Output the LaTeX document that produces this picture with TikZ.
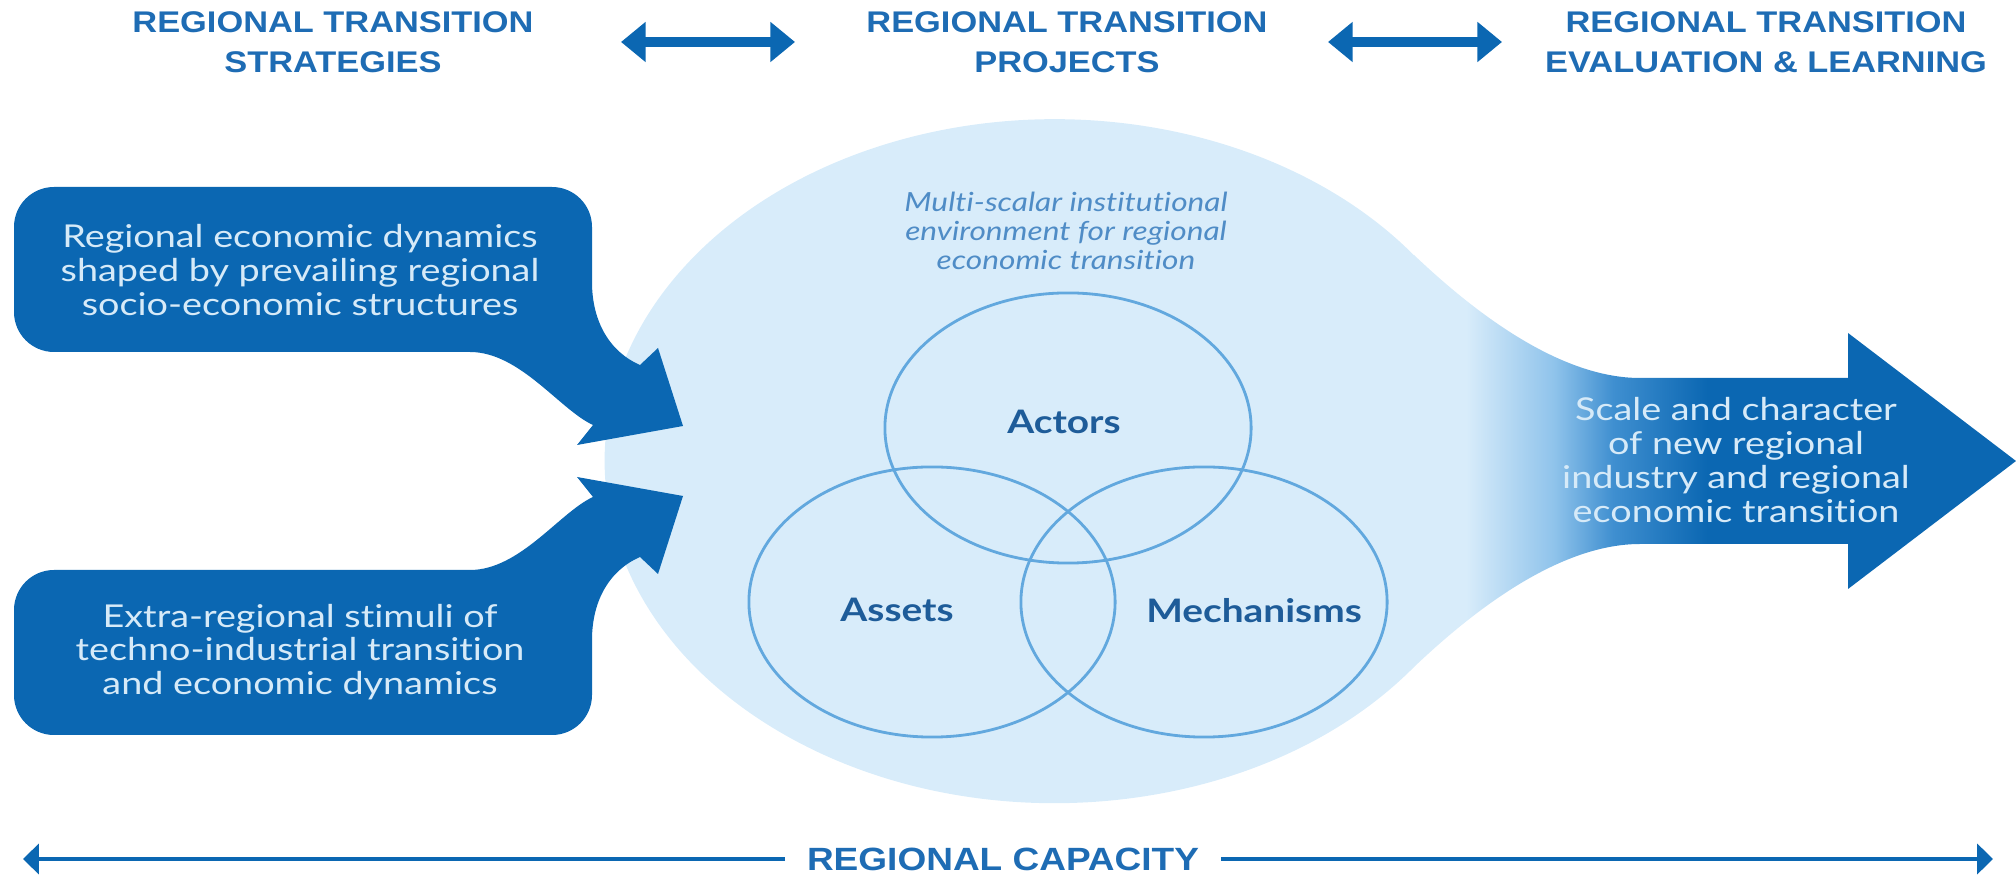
\documentclass[tikz,border=0pt]{standalone}
\usepackage{fontspec}
\setmainfont{Lato}[FakeStretch=1.2, Ligatures=NoCommon]
\newfontfamily\capsfont{Liberation Sans}[FakeStretch=1.15]
\usepackage{tikz}
\usetikzlibrary{arrows.meta}
\usetikzlibrary{shapes.geometric}
\usepackage{xcolor}

\definecolor{darkblue}{RGB}{11,103,178}
\definecolor{lightfill}{RGB}{216,236,250}
\definecolor{paleblue}{RGB}{143,195,235}
\definecolor{deepmid}{RGB}{63,143,208}
\definecolor{paletext}{RGB}{214,234,248}
\definecolor{capblue}{RGB}{30,108,180}
\definecolor{vennline}{RGB}{98,168,222}
\definecolor{vennlabel}{RGB}{30,92,153}
\definecolor{italblue}{RGB}{79,140,198}

\pgfdeclarehorizontalshading{flowshade}{100bp}{color(0bp)=(lightfill); color(56.3bp)=(lightfill); color(59.3bp)=(paleblue); color(61.3bp)=(deepmid); color(64.5bp)=(darkblue); color(100bp)=(darkblue)}

\tikzset{
	toplabel/.style={align=center, text=capblue, font=\capsfont\bfseries\fontsize{8.5}{11.4}\selectfont},
	toparrow/.style={draw=darkblue, line width=3.1pt, {Triangle[width=11pt,length=7pt]}-{Triangle[width=11pt,length=7pt]}},
	caparrow/.style={draw=darkblue, line width=1.2pt, -{Triangle[width=8.5pt,length=4.5pt]}},
	boxtext/.style={align=center, text=paletext, font=\fontsize{8.95}{9.6}\selectfont},
	venn/.style={ellipse, draw=vennline, line width=0.8pt, minimum width=3.66cm, minimum height=2.7cm, inner sep=0pt},
	vennlabel/.style={text=vennlabel, font=\bfseries\fontsize{9.2}{11}\selectfont},
	envtext/.style={align=center, text=italblue, font=\itshape\fontsize{7.5}{8.3}\selectfont}
}

\begin{document}
\begin{tikzpicture}[x=0.01cm,y=0.01cm]
	\useasboundingbox (0,0) rectangle (2016,882);
	
	% top row
	\node[toplabel] (strat) at (333,840) {REGIONAL TRANSITION\\STRATEGIES};
	\node[toplabel] (proj) at (1067,840) {REGIONAL TRANSITION\\PROJECTS};
	\node[toplabel] (evall) at (1766,840) {REGIONAL TRANSITION\\EVALUATION \& LEARNING};
	\coordinate (a1) at (621,840);
	\coordinate (a2) at (795,840);
	\coordinate (a3) at (1328,840);
	\coordinate (a4) at (1502,840);
	\draw[toparrow] (a1) -- (a2);
	\draw[toparrow] (a3) -- (a4);
	
	% environment and outgoing arrow
	\shade[shading=flowshade] (1414,627) .. controls (1475,569) and (1560,504) .. (1640,504)
	-- (1848,504) -- (1848,549) -- (2016,421) -- (1848,293) -- (1848,338) -- (1640,338)
	.. controls (1560,338) and (1475,273) .. (1414,215)
	arc[start angle=-37, end angle=-323, x radius=450, y radius=342] -- cycle;
	
	\node[envtext] (env) at (1066,651) {Multi-scalar institutional\\environment for regional\\economic transition};
	
	\node[venn] (actors) at (1068,454) {};
	\node[venn] (assets) at (932,280) {};
	\node[venn] (mechs) at (1204,280) {};
	\node[vennlabel] (actorslbl) at (1064,460) {Actors};
	\node[vennlabel] (assetslbl) at (897,272) {Assets};
	\node[vennlabel] (mechslbl) at (1254,271) {Mechanisms};
	
	\node[boxtext] (outcome) at (1736,422) {Scale and character\\of new regional\\industry and regional\\economic transition};
	
	% incoming arrows
	\fill[darkblue] (470,530) -- (54,530) arc[start angle=270, end angle=180, radius=40]
	-- (14,655) arc[start angle=180, end angle=90, radius=40]
	-- (552,695) arc[start angle=90, end angle=0, radius=40]
	-- (592,600) .. controls (592,560) and (610,530) .. (640,517)
	-- (658,534) -- (683,456) -- (577,437) -- (593,457)
	.. controls (560,472) and (520,530) .. (470,530) -- cycle;
	\fill[darkblue] (470,312) -- (54,312) arc[start angle=90, end angle=180, radius=40]
	-- (14,187) arc[start angle=180, end angle=270, radius=40]
	-- (552,147) arc[start angle=270, end angle=360, radius=40]
	-- (592,242) .. controls (592,282) and (610,312) .. (640,325)
	-- (658,308) -- (683,386) -- (577,405) -- (593,385)
	.. controls (560,370) and (520,312) .. (470,312) -- cycle;
	\node[boxtext] (regdyn) at (300,612) {Regional economic dynamics\\shaped by prevailing regional\\socio-economic structures};
	\node[boxtext] (extra) at (300,230) {Extra-regional stimuli of\\techno-industrial transition\\and economic dynamics};
	
	% bottom
	\coordinate (capL) at (23,23);
	\coordinate (capR) at (1993,23);
	\node[toplabel, font=\capsfont\bfseries\fontsize{9.15}{11}\selectfont, inner xsep=6pt] (capacity) at (1003,23) {REGIONAL CAPACITY};
	\draw[caparrow] (capacity) -- (capL);
	\draw[caparrow] (capacity) -- (capR);
\end{tikzpicture}
\end{document}
